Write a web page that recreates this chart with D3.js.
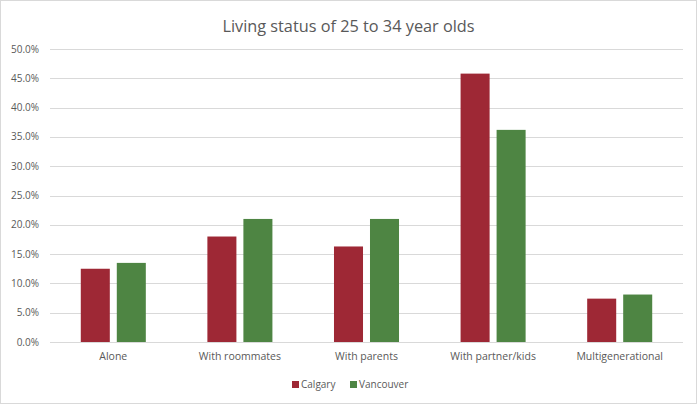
<!doctype html>
<html>
<head>
  <meta charset="utf-8">
  <title>Living status of 25 to 34 year olds</title>
  <style>
    html, body { margin: 0; padding: 0; background: #fff; }
    svg { display: block; }
    text { font-family: "Open Sans", "Noto Sans", sans-serif; fill: #595959; }
  </style>
</head>
<body>
  <div id="chart"></div>

  <script src="https://d3js.org/d3.v7.min.js"></script>
  <script>
    var categories = ['Alone', 'With roommates', 'With parents', 'With partner/kids', 'Multigenerational'];
    var seriesNames = ['Calgary', 'Vancouver'];
    var calgary = [12.5, 18.0, 16.3, 45.8, 7.4];
    var vancouver = [13.5, 21.0, 21.0, 36.2, 8.1];
    var yTicks = [0, 5, 10, 15, 20, 25, 30, 35, 40, 45, 50];
    var colors = ['#9e2835', '#4e8543'];

    var W = 697, H = 404;
    var plotL = 50, plotR = 683, plotT = 49, plotB = 342;

    var svg = d3.select('#chart').append('svg')
      .attr('width', W)
      .attr('height', H);

    // chart border
    svg.append('rect')
      .attr('x', 0.5).attr('y', 0.5)
      .attr('width', W - 1).attr('height', H - 1)
      .attr('fill', '#fff')
      .attr('stroke', '#d9d9d9');

    svg.append('text')
      .attr('x', W / 2)
      .attr('y', 32)
      .attr('text-anchor', 'middle')
      .style('font-size', '16.3px')
      .text('Living status of 25 to 34 year olds');

    var y = d3.scaleLinear().domain([0, 50]).range([plotB, plotT]);
    var x = d3.scaleBand().domain(categories).range([plotL, plotR]);
    var xInner = d3.scaleBand().domain(seriesNames)
      .range([0, x.bandwidth()])
      .paddingInner(0.194)
      .paddingOuter(0.855);

    // gridlines
    svg.append('g')
      .selectAll('line')
      .data(yTicks)
      .enter()
      .append('line')
      .attr('x1', plotL).attr('x2', plotR)
      .attr('y1', d => Math.round(y(d)) + 0.5)
      .attr('y2', d => Math.round(y(d)) + 0.5)
      .attr('stroke', '#d9d9d9')
      .attr('stroke-width', 1);

    // y labels
    svg.append('g')
      .selectAll('text')
      .data(yTicks)
      .enter()
      .append('text')
      .attr('x', 39)
      .attr('y', d => y(d) + 3.5)
      .attr('text-anchor', 'end')
      .style('font-size', '10px')
      .text(d => d.toFixed(1) + '%');

    var rows = categories.map((c, i) => ({ cat: c, vals: [calgary[i], vancouver[i]] }));

    var groups = svg.append('g')
      .selectAll('g')
      .data(rows)
      .enter()
      .append('g')
      .attr('transform', d => 'translate(' + x(d.cat) + ',0)');

    groups.selectAll('rect')
      .data(d => d.vals.map((v, j) => ({ name: seriesNames[j], v: v, j: j })))
      .enter()
      .append('rect')
      .attr('x', d => xInner(d.name))
      .attr('width', xInner.bandwidth())
      .attr('y', d => y(d.v))
      .attr('height', d => y(0) - y(d.v))
      .attr('fill', d => colors[d.j]);

    // category labels
    svg.append('g')
      .selectAll('text')
      .data(categories)
      .enter()
      .append('text')
      .attr('x', d => x(d) + x.bandwidth() / 2)
      .attr('y', 360)
      .attr('text-anchor', 'middle')
      .style('font-size', '10.5px')
      .text(d => d);

    // legend
    var legendX = [292, 350];
    var legend = svg.append('g')
      .selectAll('g')
      .data(seriesNames)
      .enter()
      .append('g')
      .attr('transform', (d, i) => 'translate(' + legendX[i] + ',381)');
    legend.append('rect')
      .attr('width', 7).attr('height', 7)
      .attr('fill', (d, i) => colors[i]);
    legend.append('text')
      .attr('x', 9)
      .attr('y', 7)
      .style('font-size', '10px')
      .text(d => d);
  </script>
</body>
</html>
